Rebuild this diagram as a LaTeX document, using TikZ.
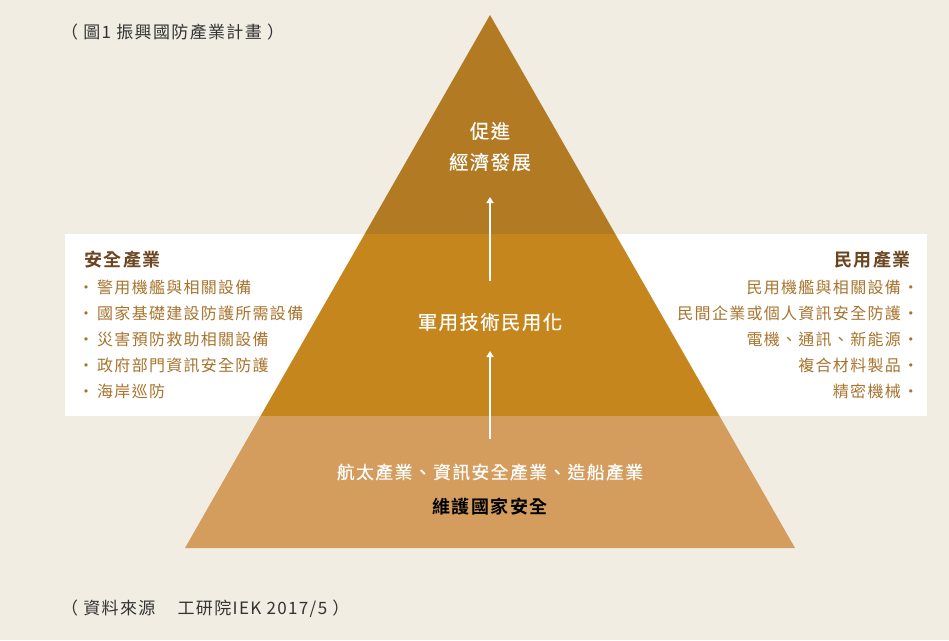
\documentclass[tikz,border=0pt]{standalone}
\usepackage{fontspec}
\setmainfont{Noto Sans CJK TC}
\newfontfamily\cjkl[LetterSpace=8]{Noto Sans CJK TC}
\newfontfamily\cjkm[LetterSpace=8,FakeBold=0.4]{Noto Sans CJK TC}
\newfontfamily\cjkb[LetterSpace=8,BoldFont={Noto Sans CJK TC Bold}]{Noto Sans CJK TC}
\usetikzlibrary{arrows.meta}
\definecolor{bgc}{HTML}{F2EDE3}
\definecolor{topc}{HTML}{B17A23}
\definecolor{midc}{HTML}{C6861E}
\definecolor{botc}{HTML}{D49D5E}
\definecolor{headc}{HTML}{6B4420}
\definecolor{itemc}{HTML}{A8742E}
\definecolor{grayc}{HTML}{333333}
\newcommand{\lbul}{\makebox[13pt][l]{\hspace{2pt}\makebox[0pt][c]{\textbullet}}}
\newcommand{\rbul}{\makebox[12pt][r]{\makebox[0pt][c]{\textbullet}\hspace{2pt}}}
\begin{document}
\begin{tikzpicture}[x=1pt,y=-1pt,
  note/.style={inner sep=0pt,font=\cjkl\fontsize{16}{18}\selectfont},
  lhead/.style={note,anchor=west,text=headc,font=\cjkb\fontsize{18}{20}\selectfont\bfseries},
  rhead/.style={lhead,anchor=east},
  litem/.style={note,anchor=west,text=itemc},
  ritem/.style={note,anchor=east,text=itemc},
  wtext/.style={inner sep=0pt,text=white,font=\cjkm\fontsize{19.3}{22}\selectfont},
  upar/.style={draw=white,line width=2pt,-{Triangle[length=6pt,width=7pt]}},
  captxt/.style={inner sep=0pt,anchor=west,text=grayc,font=\cjkl\fontsize{17}{18}\selectfont}]
\fill[bgc] (0,0) rectangle (949,640);
\useasboundingbox (0,0) rectangle (949,640);
\fill[white] (65,234) rectangle (927,416);
% pyramid sections
\fill[topc] (490,15) -- (364.7,234) -- (615.3,234) -- cycle;
\fill[midc] (364.7,234) -- (260.5,416) -- (719.5,416) -- (615.3,234) -- cycle;
\fill[botc] (260.5,416) -- (185,548) -- (795,548) -- (719.5,416) -- cycle;
% top texts
\node[wtext] (t1) at (490,131) {促進};
\node[wtext] (t2) at (490,162) {經濟發展};
\node[wtext] (m1) at (490,322) {軍用技術民用化};
\node[wtext,font=\cjkm\fontsize{17.8}{20}\selectfont] (b1) at (490,472) {航太產業、資訊安全產業、造船產業};
\node[inner sep=0pt,text=black,font=\cjkb\fontsize{18}{20}\selectfont\bfseries] (b2) at (490,507) {維護國家安全};
% arrows
\coordinate (a1s) at (490,281);
\coordinate (a1e) at (490,197);
\coordinate (a2s) at (490,439);
\coordinate (a2e) at (490,351);
\draw[upar] (a1s) -- (a1e);
\draw[upar] (a2s) -- (a2e);
% left list
\node[lhead] (lh) at (84,260) {安全產業};
\node[litem] (l1) at (84,287) {\lbul 警用機艦與相關設備};
\node[litem] (l2) at (84,313) {\lbul 國家基礎建設防護所需設備};
\node[litem] (l3) at (84,339) {\lbul 災害預防救助相關設備};
\node[litem] (l4) at (84,365) {\lbul 政府部門資訊安全防護};
\node[litem] (l5) at (84,391) {\lbul 海岸巡防};
% right list
\node[rhead] (rh) at (911,260) {民用產業};
\node[ritem] (r1) at (913,287) {民用機艦與相關設備\rbul};
\node[ritem] (r2) at (913,313) {民間企業或個人資訊安全防護\rbul};
\node[ritem] (r3) at (913,339) {電機、通訊、新能源\rbul};
\node[ritem] (r4) at (913,365) {複合材料製品\rbul};
\node[ritem] (r5) at (913,391) {精密機械\rbul};
% captions
\node[captxt] (title) at (61,32) {（ 圖1 振興國防產業計畫 ）};
\node[captxt] (src) at (61,609) {（ 資料來源\quad\ 工研院IEK 2017/5 ）};
\end{tikzpicture}
\end{document}
